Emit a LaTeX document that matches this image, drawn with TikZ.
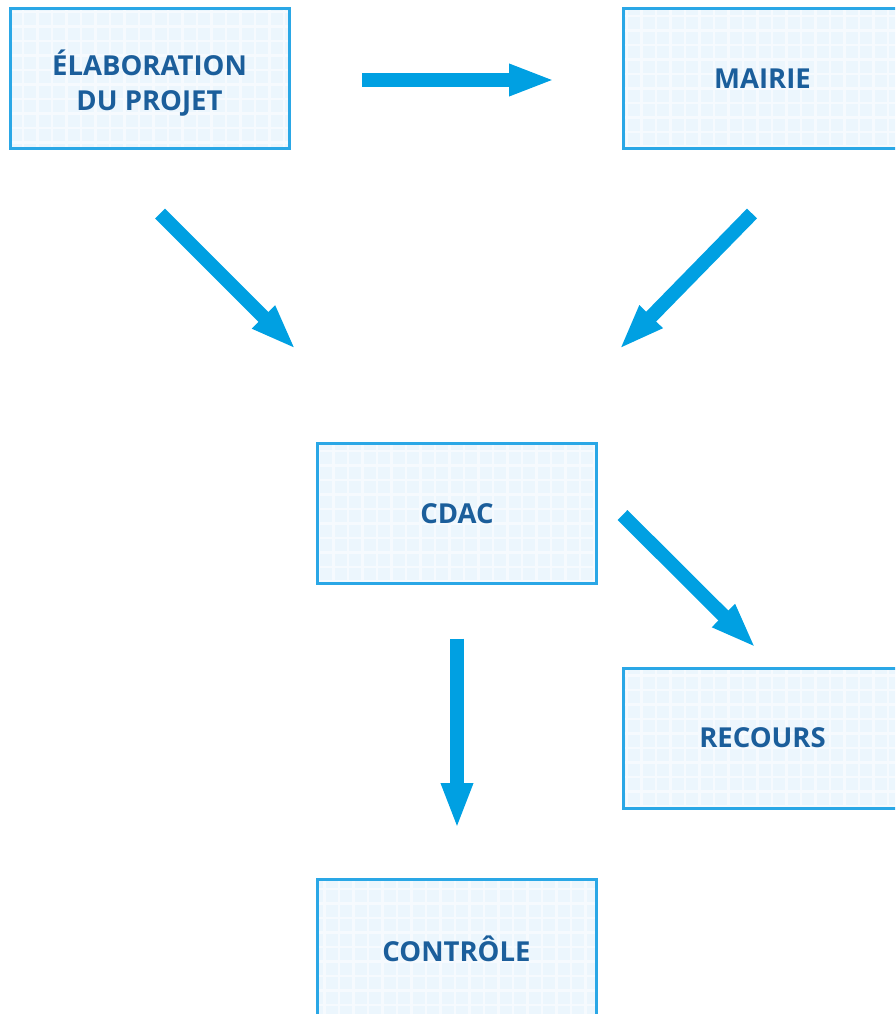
\documentclass[tikz,border=0pt]{standalone}
\usepackage{fontspec}
\setmainfont{Open Sans}
\usetikzlibrary{calc,arrows.meta}
\definecolor{boxline}{RGB}{42,167,230}
\definecolor{boxfill}{RGB}{236,246,253}
\definecolor{arrowblue}{RGB}{0,160,226}
\definecolor{textblue}{RGB}{27,94,155}
\tikzset{
  stepbox/.style={draw=boxline, line width=3pt, fill=boxfill, outer sep=0pt,
    minimum width=279pt, minimum height=140pt, align=center,
    text=textblue, font=\fontsize{27.5}{35}\selectfont\bfseries,
    path picture={\draw[white, line width=2.5pt, opacity=0.55]
      (path picture bounding box.south west) grid[step=14.5pt]
      (path picture bounding box.north east);}},
  bigarrow/.style={draw=arrowblue, line width=14pt,
    -{Triangle[length=46pt,width=29pt]}}
}
\begin{document}
\begin{tikzpicture}[x=1pt,y=-1pt]
			%%%%% START %%%%%
			\useasboundingbox (0,0) rectangle (895,1014);
			\clip (0,0) rectangle (895,1014);
			
			\node[stepbox] (elab) at (149.5, 78.5) {\raisebox{-7pt}[\height][\depth]{\begin{tabular}{@{}c@{}}ÉLABORATION\\DU PROJET\end{tabular}}};
			\node[stepbox] (mairie) at (762.5, 78.5) {MAIRIE};
			\node[stepbox] (cdac) at (457, 513.5) {CDAC};
			\node[stepbox] (recours) at (762.5, 738) {RECOURS};
			\node[stepbox] (controle) at (456.5, 949) {CONTRÔLE};
			
			\coordinate (elab-r) at ($(elab.east)+(73,1.5)$);
			\coordinate (mairie-l) at ($(mairie.west)+(-68,1.5)$);
			\coordinate (elab-b) at ($(elab.south)+(10.5,65)$);
			\coordinate (cdac-tl) at ($(cdac.north)+(-161,-94)$);
			\coordinate (mairie-b) at ($(mairie.south)+(-10.5,65)$);
			\coordinate (cdac-tr) at ($(cdac.north)+(162,-94)$);
			\coordinate (cdac-r) at ($(cdac.east)+(26,1.5)$);
			\coordinate (recours-t) at ($(recours.north)+(-6.5,-20)$);
			\coordinate (cdac-b) at ($(cdac.south)+(0,55)$);
			\coordinate (controle-t) at ($(controle.north)+(0.5,-50)$);
			
			\draw[bigarrow] (elab-r) -- (mairie-l);
			\draw[bigarrow] (elab-b) -- (cdac-tl);
			\draw[bigarrow] (mairie-b) -- (cdac-tr);
			\draw[bigarrow] (cdac-r) -- (recours-t);
			\draw[bigarrow] (cdac-b) -- (controle-t);
			
			%%%%% END %%%%%
		\end{tikzpicture}
\end{document}
